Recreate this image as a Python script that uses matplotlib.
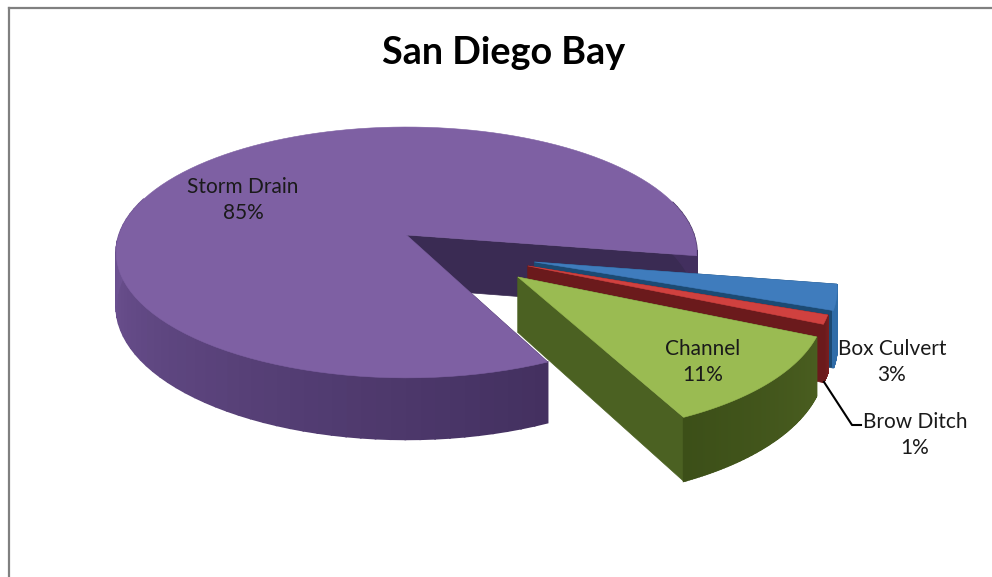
import numpy as np
import matplotlib
matplotlib.use("Agg")
import matplotlib.pyplot as plt
from matplotlib.patches import Polygon

plt.rcParams['font.family'] = ['Lato', 'DejaVu Sans']

titulo = "San Diego Bay"
categorias = ["Box Culvert", "Brow Ditch", "Channel", "Storm Drain"]
valores = [3.1, 1.1, 11.1, 84.7]
color_cara = ["#3f7cbd", "#d0413f", "#9abb52", "#7e60a3"]
color_lado = ["#1c4a73", "#6b1a1c", "#4b6122", "#3a2b53"]
color_borde_a = ["#2d6aa6", "#7a1f20", "#4a5e20", "#6d5292"]
color_borde_b = ["#2f6ca8", "#6b1a1c", "#3c4f18", "#422f5e"]
# explosion de cada trozo en el plano del disco
explosion = [(0.432, 0.213), (0.408, 0.243), (0.370, 0.326), (0.0, 0.0)]
pos_etiqueta = [(892, 362), (915, 435), (703, 362), (243, 200)]

# proyeccion del disco a la imagen (con perspectiva)
cx, cy = 406.5, 235
rx, ry = 287.5, 123
k = 0.139
grosor = 53
inicio = 9.5


def proyectar(u, v, abajo=False):
    w = 1 - k * v
    x = cx + rx * u / w
    y = cy + ry * v / w
    if abajo:
        y = y + grosor / w
    return np.column_stack([x, y])


def mezclar(c1, c2, t):
    a = np.array(matplotlib.colors.to_rgb(c1))
    b = np.array(matplotlib.colors.to_rgb(c2))
    return a + (b - a) * t


def dibujar_trozo(ax, a1, a2, off, cara, lado, borde_a, borde_b, z):
    ang = np.radians(np.linspace(a1, a2, 120))
    u = off[0] + np.cos(ang)
    v = off[1] + np.sin(ang)
    arriba = proyectar(u, v)
    abajo = proyectar(u, v, True)
    ap = proyectar(np.array([off[0]]), np.array([off[1]]))
    ap2 = proyectar(np.array([off[0]]), np.array([off[1]]), True)

    # paredes interiores
    for p, q in [(arriba[0], abajo[0]), (arriba[-1], abajo[-1])]:
        ax.add_patch(Polygon([ap[0], p, q, ap2[0]], fc=lado, ec=lado, lw=0.5, zorder=z))

    # pared exterior, de claro a oscuro segun el angulo
    for i in range(len(ang) - 1):
        s = np.sin(ang[i])
        if s < -0.3:
            continue
        grados = np.degrees(ang[i]) % 360
        if a2 - a1 > 90:
            t = 1 if grados > 270 else np.clip((180 - grados) / 120, 0, 1)
        else:
            t = i / (len(ang) - 1)
        c = mezclar(borde_a, borde_b, t)
        ax.add_patch(Polygon([arriba[i], arriba[i + 1], abajo[i + 1], abajo[i]],
                             fc=c, ec=c, lw=1.2, zorder=z + 0.1))

    ax.add_patch(Polygon(np.vstack([ap, arriba]), fc=cara, ec=cara, lw=0.4, zorder=z + 0.2))


fig = plt.figure(figsize=(9.92, 5.77), dpi=100)
ax = fig.add_axes([0, 0, 1, 1])
ax.set_xlim(0, 992)
ax.set_ylim(577, 0)
ax.axis('off')

# marco del grafico
ax.plot([8.5, 8.5], [577, 8], color="#808080", lw=1.6, zorder=1)
ax.plot([8.5, 992], [8, 8], color="#808080", lw=1.6, zorder=1)

# angulos a partir de los valores
total = sum(valores)
angulos = [inicio]
for val in valores:
    angulos.append(angulos[-1] + val / total * 360)

orden = [3, 0, 1, 2]
for n, i in enumerate(orden):
    dibujar_trozo(ax, angulos[i], angulos[i + 1], explosion[i], color_cara[i], color_lado[i],
                  color_borde_a[i], color_borde_b[i], 2 + n)

# linea guia de Brow Ditch
ax.plot([824, 852, 861], [382, 425, 425], color="black", lw=1.5, zorder=8)

ax.text(504, 53, titulo, fontsize=27.2, fontweight='bold', ha='center', va='center', color="black", zorder=9)
for i, cat in enumerate(categorias):
    ax.text(pos_etiqueta[i][0], pos_etiqueta[i][1], f"{cat}\n{round(valores[i])}%", fontsize=15, ha='center',
            va='center', color="#1a1a1a", linespacing=1.4, zorder=9)

fig.savefig("out.png", dpi=100)
